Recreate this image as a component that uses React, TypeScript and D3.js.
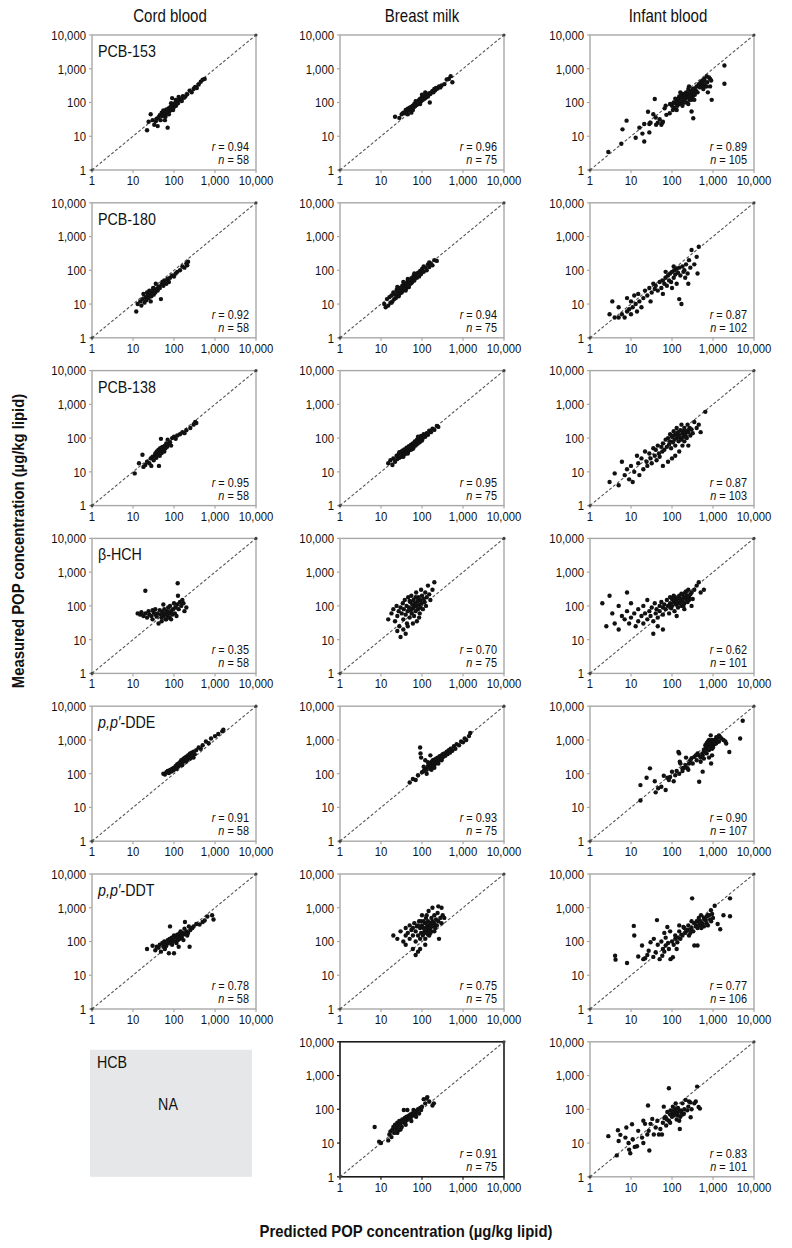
import React from 'react';
import * as d3 from 'd3';

// ---- categories / labels ----
const columnTitles = ['Cord blood', 'Breast milk', 'Infant blood'];
const compounds = ['PCB-153', 'PCB-180', 'PCB-138', 'β-HCH', 'p,p′-DDE', 'p,p′-DDT', 'HCB'];
const tickValues = [1, 10, 100, 1000, 10000];
const rValues: (number | null)[][] = [
  [0.94, 0.96, 0.89], [0.92, 0.94, 0.87], [0.95, 0.95, 0.87], [0.35, 0.70, 0.62],
  [0.91, 0.93, 0.90], [0.78, 0.75, 0.77], [null, 0.91, 0.83],
];
const nValues: (number | null)[][] = [
  [58, 75, 105], [58, 75, 102], [58, 75, 103], [58, 75, 101],
  [58, 75, 107], [58, 75, 106], [null, 75, 101],
];

// ---- data: [predicted, measured] (µg/kg lipid) ----
const cordPCB153 = [[22,15],[24,27],[27,45],[30,30],[33,22],[36,28],[38,33],[40,20],[42,36],[45,42],[47,30],[50,50],[52,40],[55,58],[57,45],[60,52],[62,38],[65,62],[67,48],[70,18],[72,58],[75,68],[77,55],[80,64],[82,74],[85,60],[88,78],[90,135],[92,70],[95,84],[100,74],[103,90],[108,98],[112,80],[118,108],[125,95],[135,118],[145,125],[155,110],[165,155],[175,138],[190,150],[210,175],[240,225],[270,200],[300,250],[330,290],[360,270],[400,340],[450,410],[500,470],[560,500],[130,145],[95,60],[75,45],[60,30],[110,120],[85,95]];
const bmPCB153 = [[22,38],[28,35],[32,45],[35,50],[38,48],[40,60],[42,55],[45,65],[48,58],[50,70],[52,62],[55,75],[58,68],[60,80],[62,72],[65,90],[68,78],[70,95],[72,85],[75,100],[78,88],[80,110],[82,95],[85,120],[88,100],[90,130],[95,110],[100,140],[105,120],[110,150],[115,130],[120,160],[125,140],[130,170],[140,150],[150,190],[155,100],[160,180],[170,200],[180,220],[190,200],[200,250],[210,230],[220,270],[240,260],[260,300],[280,280],[300,320],[350,350],[400,480],[450,500],[500,600],[550,400],[120,200],[100,170],[70,110],[55,50],[45,45],[60,60],[90,90]];
const infPCB153 = [[2.8,3.4],[5.8,6],[6.2,16],[7.8,29],[13,9],[16,18],[19,12],[21,7],[21,23],[28,13],[28,23],[26,53],[38,127],[40,36],[41,22],[50,32],[58,25],[60,27],[66,67],[73,43],[88,48],[105,60],[123,95],[45,25],[55,22],[35,45],[30,25],[70,80],[90,90],[100,80],[110,100],[115,70],[130,110],[135,80],[140,130],[150,90],[155,120],[160,150],[170,100],[180,140],[185,180],[190,110],[200,160],[210,130],[220,200],[230,170],[240,140],[250,250],[260,190],[270,120],[280,160],[290,220],[300,54],[310,180],[320,150],[330,34],[340,200],[350,260],[360,170],[380,230],[400,300],[420,200],[450,350],[480,280],[500,400],[520,320],[550,450],[580,250],[600,350],[620,500],[650,300],[700,600],[720,400],[750,200],[800,550],[850,300],[900,450],[930,120],[1900,1250],[1900,360],[230,100],[170,170],[130,60],[260,300],[300,120],[200,100],[350,120],[250,90],[180,80],[140,100],[160,200],[200,130],[280,200],[320,250],[240,180],[270,150],[210,170],[150,150],[120,130],[600,450],[700,300],[850,500],[550,300]];

const cordPCB180 = [[12,6],[13,10],[15,12],[16,9],[17,14],[18,20],[19,11],[20,16],[21,13],[22,22],[23,18],[24,15],[25,25],[26,20],[27,12],[28,17],[30,24],[31,30],[32,19],[34,26],[35,22],[36,40],[38,28],[40,25],[42,33],[45,30],[48,14],[50,38],[52,45],[55,35],[58,42],[60,50],[65,40],[70,55],[75,45],[80,60],[90,70],[100,65],[110,80],[120,90],[140,100],[160,130],[180,120],[200,160],[220,180],[210,140]];
const bmPCB180 = [[12,10],[13,8],[14,14],[15,9],[16,16],[17,11],[18,18],[19,12],[20,22],[21,14],[22,19],[23,15],[24,26],[25,18],[26,22],[27,17],[28,30],[29,21],[30,26],[32,22],[33,35],[34,25],[35,30],[37,40],[38,28],[40,36],[42,30],[44,46],[45,34],[47,42],[48,32],[50,50],[52,40],[55,58],[57,44],[60,52],[62,68],[65,50],[68,62],[70,75],[75,60],[80,85],[85,66],[90,95],[95,78],[100,110],[110,90],[120,120],[130,100],[140,150],[150,125],[165,160],[180,140],[200,200],[230,190],[18,11],[28,20],[40,25],[55,42],[25,32],[35,45],[65,80],[110,130],[150,170],[45,55]];
const infPCB180 = [[3,5],[3.5,12],[4,4],[5,4],[5,8],[6,5],[7,4],[8,6],[8,15],[9,7],[10,5],[10,12],[11,8],[12,18],[13,10],[14,6],[15,20],[16,12],[18,8],[20,15],[22,25],[25,18],[28,30],[30,12],[32,22],[35,40],[38,28],[40,35],[45,25],[50,45],[55,30],[60,50],[65,40],[70,60],[75,35],[80,70],[85,50],[90,80],[95,45],[100,90],[110,60],[115,100],[120,75],[130,110],[140,85],[150,120],[150,14],[160,70],[170,10],[180,130],[190,90],[200,100],[210,60],[220,150],[240,80],[260,200],[280,120],[300,400],[350,150],[400,250],[450,500],[420,80],[130,40],[100,30],[60,20],[70,90],[110,130],[250,40]];

const cordPCB138 = [[11,9],[14,18],[17,32],[18,14],[20,16],[22,20],[25,18],[27,25],[28,15],[30,28],[32,22],[34,30],[35,35],[37,26],[38,40],[40,32],[42,45],[43,15],[44,38],[45,30],[46,50],[48,95],[48,42],[50,36],[52,55],[55,45],[58,40],[60,60],[62,50],[65,70],[68,55],[70,90],[75,65],[80,75],[85,60],[90,100],[100,110],[110,95],[120,120],[140,130],[160,150],[180,140],[200,170],[250,200],[300,250],[330,300],[350,280]];
const bmPCB138 = [[15,18],[17,22],[19,16],[20,25],[22,20],[24,30],[25,24],[27,34],[28,26],[30,38],[31,28],[33,42],[34,31],[35,36],[37,46],[38,33],[40,42],[42,52],[43,36],[45,48],[46,40],[48,58],[50,44],[52,52],[54,64],[55,46],[57,56],[60,70],[62,52],[64,62],[67,80],[70,60],[72,72],[75,90],[78,68],[80,80],[85,100],[88,75],[90,90],[95,115],[100,85],[105,100],[110,130],[120,110],[130,140],[140,125],[150,165],[165,150],[180,190],[200,175],[230,230],[250,215],[45,35],[35,28],[60,48],[28,38],[80,110]];
const infPCB138 = [[3,5],[4,9],[5,4],[6,20],[7,8],[8,12],[9,6],[10,15],[11,5],[12,10],[14,30],[15,18],[16,8],[18,25],[20,12],[22,40],[24,20],[25,15],[28,35],[30,25],[32,18],[35,50],[38,30],[40,45],[42,22],[45,60],[48,35],[50,28],[55,55],[58,40],[60,70],[65,45],[70,90],[75,55],[80,100],[85,65],[90,80],[95,50],[100,110],[105,75],[110,120],[115,90],[120,60],[125,130],[130,100],[140,150],[145,80],[150,120],[160,170],[170,90],[180,140],[190,110],[200,200],[210,130],[220,160],[230,100],[240,250],[250,150],[270,200],[280,120],[300,180],[320,140],[350,300],[400,200],[450,250],[500,150],[650,600],[150,40],[120,30],[100,25],[80,20],[180,60],[60,15],[200,80],[250,60],[130,200],[90,130],[170,250],[110,160],[260,180],[220,110],[160,100],[140,110],[190,160]];

const cordBHCH = [[13,60],[15,55],[16,65],[18,50],[20,280],[20,60],[22,45],[24,70],[25,55],[28,50],[30,40],[32,65],[35,55],[38,48],[40,60],[42,30],[45,75],[48,55],[50,45],[52,65],[55,50],[58,80],[60,60],[62,40],[65,55],[68,70],[70,50],[72,90],[75,60],[78,45],[80,100],[85,70],[90,55],[95,80],[100,120],[105,60],[110,90],[115,50],[120,110],[123,470],[125,200],[130,80],[140,130],[150,100],[160,150],[170,120],[180,70],[200,90],[30,75],[35,80],[50,35],[55,110],[65,40],[85,40]];
const bmBHCH = [[15,40],[18,60],[20,80],[22,35],[24,100],[25,50],[27,70],[28,25],[30,90],[30,12],[32,60],[34,120],[35,40],[36,80],[38,150],[40,55],[42,100],[43,30],[45,70],[46,180],[48,90],[50,45],[52,130],[54,75],[55,200],[56,60],[58,110],[60,85],[62,150],[64,50],[65,95],[68,120],[70,70],[72,250],[74,100],[75,35],[78,140],[80,80],[82,180],[85,110],[88,60],[90,150],[92,90],[95,300],[98,120],[100,200],[105,80],[110,160],[115,130],[120,250],[125,100],[130,180],[140,400],[150,220],[160,150],[180,300],[200,500],[35,20],[40,15],[45,25],[60,30],[25,18],[50,140],[70,180],[85,45]];
const infBHCH = [[2,120],[2.5,25],[3,200],[3.5,60],[4,30],[5,100],[5,20],[6,50],[7,40],[8,250],[8,70],[9,30],[10,120],[10,45],[12,60],[13,25],[15,80],[15,35],[18,50],[20,100],[20,30],[22,60],[25,40],[25,150],[28,70],[30,50],[32,90],[35,35],[38,120],[40,60],[42,80],[45,45],[50,100],[50,70],[55,130],[60,55],[60,90],[65,110],[70,80],[75,150],[80,100],[85,60],[90,120],[95,85],[100,160],[100,100],[110,130],[115,70],[120,180],[125,110],[130,140],[140,90],[150,200],[150,120],[160,160],[170,100],[180,220],[180,140],[190,180],[200,120],[210,250],[220,160],[230,200],[240,130],[250,300],[260,180],[280,220],[300,250],[320,160],[350,300],[400,400],[450,500],[500,250],[600,300],[60,20],[45,25],[35,15],[130,50],[200,80],[300,100],[110,200],[90,180],[140,170],[160,130],[170,230],[260,150],[220,270],[190,100],[230,150],[140,120],[120,150]];

const cordDDE = [[55,100],[60,95],[65,110],[70,120],[75,105],[80,130],[85,115],[90,140],[95,125],[100,150],[105,135],[110,170],[115,140],[120,190],[125,160],[130,200],[135,175],[140,220],[145,190],[150,250],[155,210],[160,180],[165,240],[170,280],[175,230],[180,260],[185,300],[190,250],[200,320],[210,270],[220,350],[230,300],[240,380],[250,280],[260,340],[270,420],[280,310],[300,450],[320,380],[350,500],[400,600],[450,550],[500,700],[600,900],[700,800],[800,1100],[1000,1300],[1200,1500],[1500,1800],[1600,2000],[250,400],[200,230],[300,300]];
const bmDDE = [[50,55],[60,70],[70,65],[80,90],[90,600],[92,400],[95,300],[100,110],[110,120],[120,140],[130,130],[140,170],[150,160],[155,190],[160,140],[165,210],[170,180],[175,230],[180,200],[185,250],[190,170],[195,220],[200,260],[205,190],[210,240],[220,280],[225,210],[230,260],[240,300],[250,240],[260,280],[270,330],[280,260],[290,310],[300,350],[310,290],[320,380],[330,320],[350,400],[370,340],[400,450],[420,380],[450,500],[480,420],[500,550],[550,480],[600,650],[650,550],[700,750],[800,700],[900,900],[1000,850],[1100,1100],[1200,1000],[1400,1300],[1500,1600],[130,100],[170,130],[200,150],[250,200],[300,250],[110,160],[140,220],[120,250],[160,350]];
const infDDE = [[17,16],[17,46],[24,76],[29,144],[38,60],[40,28],[46,37],[55,41],[70,33],[63,87],[77,76],[84,65],[100,115],[143,440],[155,225],[180,145],[215,180],[240,145],[260,200],[300,290],[350,315],[380,350],[420,400],[460,58],[560,115],[500,225],[560,350],[610,440],[670,550],[740,700],[800,780],[880,1370],[940,620],[1000,870],[1200,990],[1300,1200],[1400,1370],[1600,1100],[2100,780],[2500,440],[4600,1100],[5300,3700],[600,500],[650,700],[700,600],[750,900],[800,500],[850,650],[900,800],[950,550],[1000,700],[1100,1000],[1200,800],[1300,900],[1500,1200],[1800,1000],[2000,900],[950,350],[900,200],[800,300],[700,400],[600,280],[500,300],[400,250],[320,200],[280,250],[220,300],[180,120],[150,100],[130,120],[120,90],[110,60],[90,80],[160,200],[200,150],[250,130],[150,400],[850,900],[900,600],[1000,600],[1100,750],[750,650],[650,450],[550,400],[450,350],[700,800],[800,1000],[1200,1200],[1400,900],[950,1000],[1050,900]];

const cordDDT = [[22,60],[30,75],[35,55],[38,70],[42,65],[45,80],[48,50],[52,90],[55,70],[58,100],[60,60],[62,85],[65,75],[70,110],[72,90],[75,45],[78,120],[80,280],[82,95],[85,100],[88,130],[90,80],[95,110],[100,45],[100,150],[105,100],[110,130],[115,90],[120,160],[125,110],[130,140],[135,170],[140,120],[145,200],[150,150],[155,130],[160,180],[170,160],[180,240],[185,380],[190,170],[200,200],[210,150],[220,180],[240,70],[250,220],[280,250],[300,280],[350,330],[420,320],[500,380],[560,420],[650,550],[850,600],[920,450],[230,280],[170,110],[130,70]];
const bmDDT = [[20,150],[25,120],[30,200],[35,100],[40,250],[40,80],[45,180],[50,300],[50,120],[55,220],[60,150],[60,60],[65,350],[70,200],[70,100],[75,280],[80,150],[80,50],[85,400],[90,250],[90,120],[95,180],[100,300],[100,600],[105,150],[110,250],[110,400],[115,200],[120,350],[120,120],[125,500],[130,250],[130,180],[135,300],[140,400],[140,220],[145,800],[150,300],[150,150],[160,350],[160,250],[170,500],[170,200],[180,400],[180,280],[190,300],[200,600],[200,350],[210,250],[220,450],[230,300],[240,700],[250,400],[260,120],[280,500],[300,1000],[300,350],[320,600],[350,500],[250,1100],[180,1000],[120,80],[90,60],[70,40],[60,250],[40,150],[110,180],[140,160],[160,180],[200,200],[80,300],[95,400],[130,600]];
const infDDT = [[4.1,38],[4.2,29],[8,23],[11.7,290],[12,150],[15,36],[18.6,76],[22,32],[27,53],[30,95],[36,120],[40,48],[43,430],[50,30],[58,38],[70,76],[84,60],[92,30],[105,34],[77,270],[120,150],[135,95],[160,120],[190,270],[210,180],[260,150],[290,230],[310,1900],[350,76],[420,76],[460,380],[510,600],[560,340],[670,430],[740,600],[890,850],[1100,1150],[1300,330],[1500,230],[1800,600],[2600,1900],[2600,560],[100,100],[120,120],[150,200],[180,150],[200,250],[220,200],[250,300],[300,250],[350,350],[400,300],[450,500],[500,400],[550,300],[600,500],[700,350],[800,600],[900,400],[1000,500],[60,60],[45,80],[35,35],[25,40],[20,30],[55,100],[70,130],[130,60],[150,300],[90,200],[65,180],[330,200],[380,280],[420,250],[480,300],[620,450],[700,550],[750,300],[850,450],[950,650],[280,180],[240,220],[170,160],[140,130],[110,80],[80,90],[65,50],[600,280],[520,250],[400,400],[300,400]];

const bmHCB = [[7,30],[9,11],[10,10],[15,12],[16,18],[17,22],[18,15],[19,25],[20,30],[21,20],[22,35],[23,26],[24,28],[25,40],[26,32],[27,24],[28,45],[30,38],[32,30],[33,50],[35,42],[36,95],[38,55],[40,45],[42,60],[44,95],[45,50],[48,65],[50,55],[52,70],[55,60],[58,75],[60,65],[62,95],[65,80],[68,70],[70,90],[75,85],[80,100],[85,75],[90,110],[95,95],[100,120],[110,200],[120,150],[130,210],[135,230],[150,170],[180,130],[195,150],[30,25],[40,35],[55,45],[72,60],[25,20]];
const infHCB = [[2.8,16],[4.8,24],[5,11.5],[4.5,4.3],[5.5,17.5],[7.3,14.5],[7.7,29],[8.7,10],[9,6.4],[9.6,5],[10.6,36],[11,13],[12.3,7.7],[14,8],[15,23],[18.6,14.5],[20,10],[20,46],[22,37],[26,130],[25,18],[27,23],[28,6],[30,37],[33,52],[36,18],[40,29],[44,46],[48,18],[52,26],[57,18],[63,120],[70,58],[72,33],[77,83],[84,46],[84,420],[92,93],[100,74],[105,120],[118,83],[123,150],[135,74],[150,46],[155,26],[165,93],[180,150],[195,74],[215,190],[235,93],[260,170],[285,58],[380,170],[410,470],[445,117],[480,105],[90,70],[100,60],[110,65],[120,70],[130,80],[140,65],[150,90],[160,60],[170,80],[180,70],[200,100],[120,100],[110,90],[140,110],[75,50],[60,40],[65,55],[90,40],[130,50],[250,120],[280,160],[300,100],[350,150]];

const panelData: (number[][] | null)[][] = [
  [cordPCB153, bmPCB153, infPCB153],
  [cordPCB180, bmPCB180, infPCB180],
  [cordPCB138, bmPCB138, infPCB138],
  [cordBHCH, bmBHCH, infBHCH],
  [cordDDE, bmDDE, infDDE],
  [cordDDT, bmDDT, infDDT],
  [null, bmHCB, infHCB],
];

// ---- layout ----
const W = 792, H = 1248;
const colLeft = [92, 340, 590];
const panelW = 164;
const panelH = 135;
const rowTop0 = 35;
const rowStep = 167.8;
const colTitleX = [170, 422, 668];
const FONT = "'Liberation Sans', Arial, sans-serif";
const SX = 0.84; // horizontal condensing to imitate the narrow typeface

function fmt(v: number) { return d3.format(',')(v); }

function NText({ x, y, sx = SX, children, ...rest }: any) {
  return (
    <text transform={`translate(${x},${y}) scale(${sx},1)`} fontFamily={FONT} fill="#111" {...rest}>
      {children}
    </text>
  );
}

function CompoundLabel({ name, x, y }: { name: string; x: number; y: number }) {
  if (name.startsWith('p,p′')) {
    return (
      <NText x={x} y={y} fontSize={17}>
        <tspan fontStyle="italic">p,p′</tspan>
        <tspan>{name.slice(4)}</tspan>
      </NText>
    );
  }
  return <NText x={x} y={y} fontSize={17}>{name}</NText>;
}

function Panel({ row, col }: { row: number; col: number }) {
  const left = colLeft[col];
  const top = rowTop0 + row * rowStep;
  const data = panelData[row][col];
  if (!data) {
    return (
      <g>
        <rect x={left - 2} y={top + 8} width={162} height={127} fill="#e6e7e8" />
        <CompoundLabel name={compounds[row]} x={left + 5} y={top + 26} />
        <NText x={left + 76} y={top + 68} fontSize={17} textAnchor="middle">NA</NText>
      </g>
    );
  }
  const x = d3.scaleLog().domain([1, 10000]).range([left, left + panelW]);
  const y = d3.scaleLog().domain([1, 10000]).range([top + panelH, top]);
  const dark = row === 6 && col === 1;
  const frame = dark ? '#1a1a1a' : '#a8a8a8';
  const r = rValues[row][col] as number;
  const n = nValues[row][col] as number;
  return (
    <g>
      <rect x={left} y={top} width={panelW} height={panelH} fill="#fff" stroke={frame} strokeWidth={dark ? 1.6 : 1.4} />
      {tickValues.map((t) => (
        <g key={t}>
          <line x1={x(t)} x2={x(t)} y1={top + panelH} y2={top + panelH + 3} stroke={frame} strokeWidth={1.2} />
          <line x1={left - 3} x2={left} y1={y(t)} y2={y(t)} stroke={frame} strokeWidth={1.2} />
          <NText x={x(t)} y={top + panelH + 15} fontSize={13.5} textAnchor="middle">{fmt(t)}</NText>
          <NText x={left - 6} y={y(t)} dy="0.36em" fontSize={13.5} textAnchor="end">{fmt(t)}</NText>
        </g>
      ))}
      <line x1={x(1)} y1={y(1)} x2={x(10000)} y2={y(10000)} stroke="#555" strokeWidth={1.1} strokeDasharray="3 2" />
      <circle cx={x(1)} cy={y(1)} r={1.6} fill="#444" />
      <circle cx={x(10000)} cy={y(10000)} r={1.6} fill="#444" />
      {data.map((d, i) => (
        <circle key={i} cx={x(d[0])} cy={y(d[1])} r={2.2} fill="#111" />
      ))}
      {col === 0 && <CompoundLabel name={compounds[row]} x={left + 6} y={top + 22} />}
      <NText x={left + panelW - 7} y={top + panelH - 19} fontSize={13} textAnchor="end">
        <tspan fontStyle="italic">r</tspan> = {r.toFixed(2)}
      </NText>
      <NText x={left + panelW - 7} y={top + panelH - 6} fontSize={13} textAnchor="end">
        <tspan fontStyle="italic">n</tspan> = {n}
      </NText>
    </g>
  );
}

export default function App() {
  const rows = d3.range(compounds.length);
  const cols = d3.range(columnTitles.length);
  return (
    <svg width={W} height={H} style={{ position: 'absolute', left: 0, top: 0, background: '#fff' }}>
      <rect width={W} height={H} fill="#fff" />
      {columnTitles.map((t, i) => (
        <NText key={t} x={colTitleX[i]} y={22} fontSize={17.5} textAnchor="middle" sx={0.86}>{t}</NText>
      ))}
      {rows.map((r) => cols.map((c) => <Panel key={`${r}-${c}`} row={r} col={c} />))}
      <text transform="translate(24,541) rotate(-90) scale(0.9,1)" fontSize={16.5} fontWeight="bold" fontFamily={FONT} textAnchor="middle" fill="#111">
        Measured POP concentration (µg/kg lipid)
      </text>
      <NText x={406} y={1237} sx={0.9} fontSize={16.5} fontWeight="bold" textAnchor="middle">
        Predicted POP concentration (µg/kg lipid)
      </NText>
    </svg>
  );
}
